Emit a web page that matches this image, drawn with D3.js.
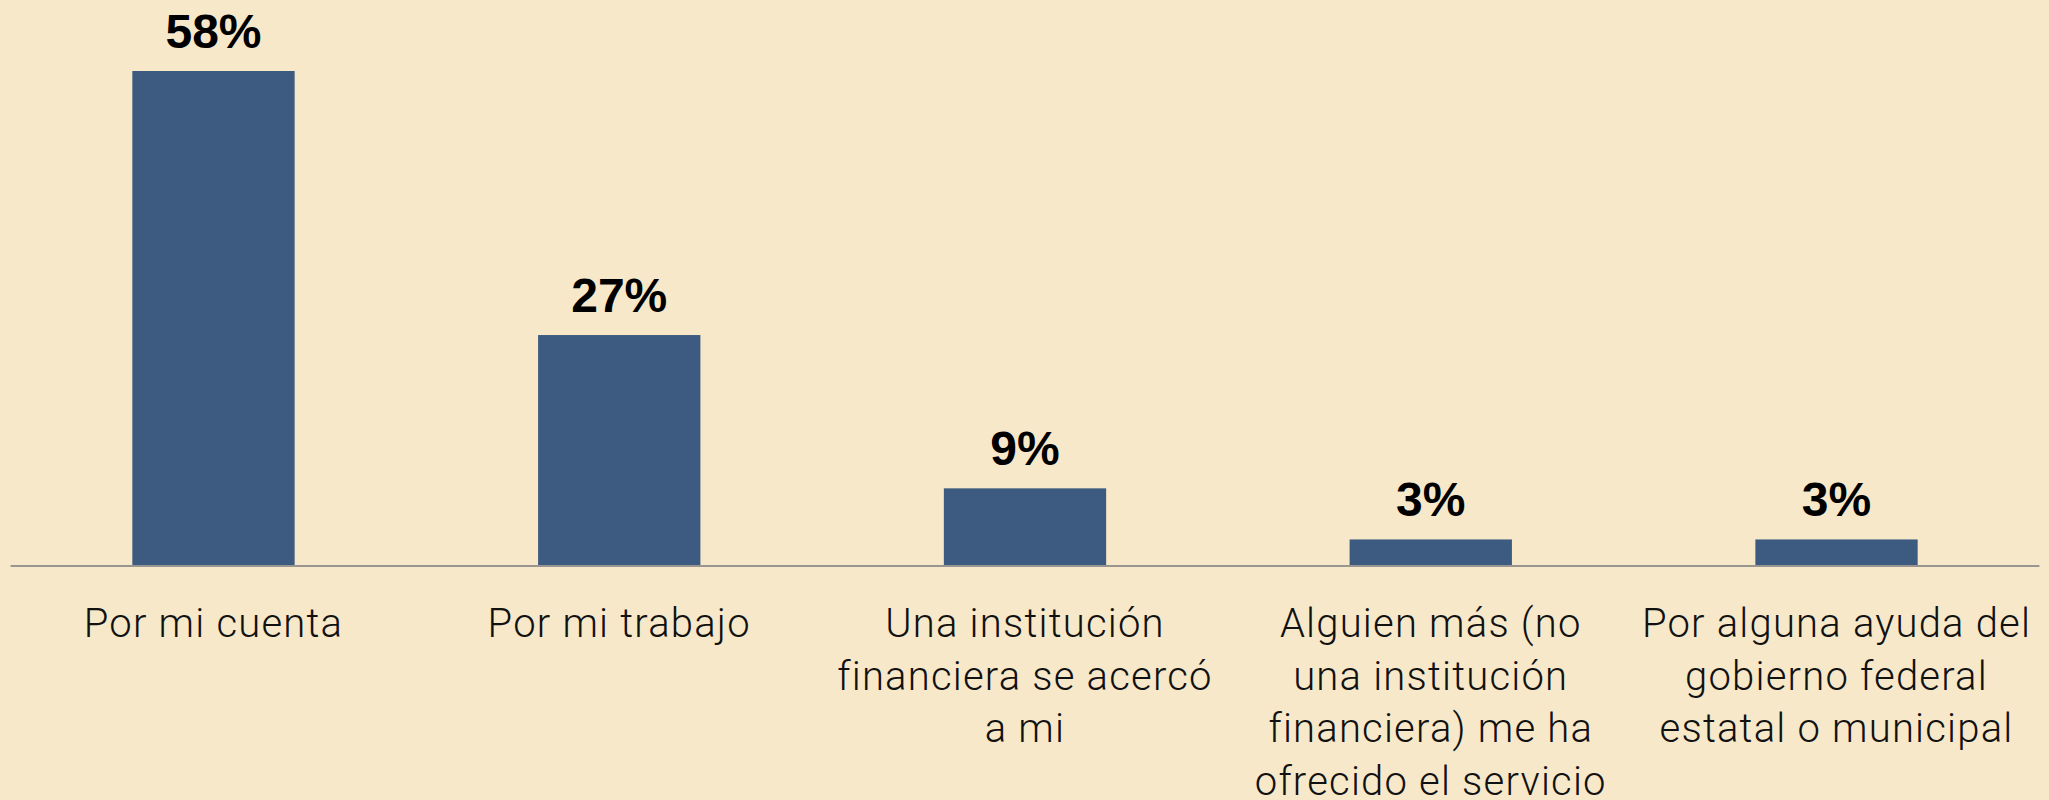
<!DOCTYPE html>
<html>
<head>
<meta charset="utf-8">
<script src="https://cdn.jsdelivr.net/npm/d3@7"></script>
<style>
  html, body { margin: 0; padding: 0; background: #f7e8ca; }
  svg { display: block; }
</style>
</head>
<body>
<div id="chart"></div>
<script>
// Categories (one array of lines per label) and values
const categories = [
    "Por mi cuenta",
    "Por mi trabajo",
    "Una institución financiera se acercó a mi",
    "Alguien más (no una institución financiera) me ha ofrecido el servicio",
    "Por alguna ayuda del gobierno federal estatal o municipal"
];
const labelLines = [
    ["Por mi cuenta"],
    ["Por mi trabajo"],
    ["Una institución", "financiera se acercó", "a mi"],
    ["Alguien más (no", "una institución", "financiera) me ha", "ofrecido el servicio"],
    ["Por alguna ayuda del", "gobierno federal", "estatal o municipal"]
];
const values = [58, 27, 9, 3, 3];

const width = 2049;
const height = 800;
const baseline = 565;

const svg = d3.select("#chart")
    .append("svg")
    .attr("width", width)
    .attr("height", height);

svg.append("rect")
    .attr("width", width)
    .attr("height", height)
    .attr("fill", "#f7e8ca");

const x = d3.scaleBand()
    .domain(categories)
    .range([10.6, 2039.4])
    .paddingInner(0.6)
    .paddingOuter(0.3);

// 58% reaches y = 71
const y = d3.scaleLinear()
    .domain([0, 58])
    .range([baseline, 71]);

const data = categories.map((c, i) => ({ cat: c, value: values[i], lines: labelLines[i] }));

// Bars
svg.selectAll("rect.bar")
    .data(data)
    .join("rect")
    .attr("class", "bar")
    .attr("x", d => x(d.cat))
    .attr("y", d => y(d.value))
    .attr("width", x.bandwidth())
    .attr("height", d => y(0) - y(d.value))
    .attr("fill", "#3d5a80");

// Baseline
svg.append("line")
    .attr("x1", x.range()[0])
    .attr("x2", x.range()[1])
    .attr("y1", y(0) + 1)
    .attr("y2", y(0) + 1)
    .attr("stroke", "#9a9590")
    .attr("stroke-width", 2);

// Value labels
svg.selectAll("text.value")
    .data(data)
    .join("text")
    .attr("class", "value")
    .attr("x", d => x(d.cat) + x.bandwidth() / 2)
    .attr("y", d => y(d.value) - 23)
    .attr("text-anchor", "middle")
    .style("font-family", "'Liberation Sans', Arial, sans-serif")
    .style("font-weight", "bold")
    .style("font-size", "48px")
    .style("fill", "#000")
    .text(d => d.value + "%");

// Category labels
const cats = svg.selectAll("text.cat")
    .data(data)
    .join("text")
    .attr("class", "cat")
    .attr("x", d => x(d.cat) + x.bandwidth() / 2)
    .attr("y", 637)
    .attr("text-anchor", "middle")
    .style("font-family", "Roboto, 'Liberation Sans', sans-serif")
    .style("font-weight", 300)
    .style("font-size", "40px")
    .style("letter-spacing", "1.2px")
    .style("fill", "#111");

cats.selectAll("tspan")
    .data(d => d.lines.map(l => ({ line: l, cx: x(d.cat) + x.bandwidth() / 2 })))
    .join("tspan")
    .attr("x", d => d.cx)
    .attr("dy", (d, i) => i === 0 ? 0 : 52.7)
    .text(d => d.line);
</script>
</body>
</html>
